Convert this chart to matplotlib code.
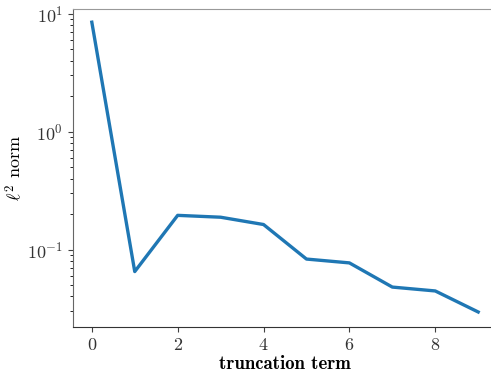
import numpy as np
import matplotlib
matplotlib.use('Agg')
from matplotlib import pyplot as plt

# truncation term vs l2 norm
terms = [0, 1, 2, 3, 4, 5, 6, 7, 8, 9]
norms = [8.5, 0.065, 0.195, 0.188, 0.163, 0.083, 0.077, 0.048, 0.0445, 0.0295]

plt.rcParams['font.family'] = 'cmr10'
plt.rcParams['mathtext.fontset'] = 'cm'
plt.rcParams['axes.formatter.use_mathtext'] = True
plt.rcParams['axes.unicode_minus'] = False

fig = plt.figure(figsize=(4.91, 3.72), dpi=100)
ax = fig.add_axes([72.5/491, 45/372, 425/491, 318/372])

ax.semilogy(terms, norms, color='#1f77b4', lw=2.4)
ax.set_xlim(-0.45, 9.45)
ax.set_ylim(0.022, 11.0)
ax.set_xticks([0, 2, 4, 6, 8])

ax.tick_params(labelsize=13, colors='0.25', labelcolor='0.2')
ax.set_xlabel('truncation term', fontsize=13.5, fontfamily='cmb10')
ax.set_ylabel(r'$\ell^2$ norm', fontsize=13)
ax.xaxis.set_label_coords(0.5, -0.088)
ax.yaxis.set_label_coords(-0.112, 0.5)

ax.spines['left'].set_color('0.4')
ax.spines['top'].set_color('0.6')
ax.spines['bottom'].set_color('0.2')
ax.spines['right'].set_visible(False)

fig.savefig('out.png', dpi=100)
